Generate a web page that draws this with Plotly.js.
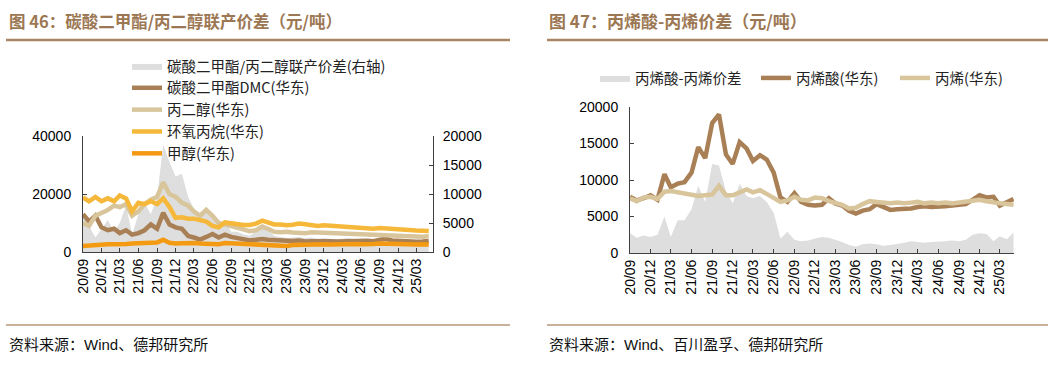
<!DOCTYPE html>
<html><head><meta charset="utf-8">
<script src="https://cdn.plot.ly/plotly-3.0.1.min.js"></script>
<style>html,body{margin:0;padding:0;background:#fff}#chart{width:1063px;height:366px}</style>
</head><body><div id="chart"></div>
<script>
// ---- shared monthly dates ----
const months = [
 '2020-09-01','2020-10-01','2020-11-01','2020-12-01',
 '2021-01-01','2021-02-01','2021-03-01','2021-04-01','2021-05-01','2021-06-01','2021-07-01','2021-08-01','2021-09-01','2021-10-01','2021-11-01','2021-12-01',
 '2022-01-01','2022-02-01','2022-03-01','2022-04-01','2022-05-01','2022-06-01','2022-07-01','2022-08-01','2022-09-01','2022-10-01','2022-11-01','2022-12-01',
 '2023-01-01','2023-02-01','2023-03-01','2023-04-01','2023-05-01','2023-06-01','2023-07-01','2023-08-01','2023-09-01','2023-10-01','2023-11-01','2023-12-01',
 '2024-01-01','2024-02-01','2024-03-01','2024-04-01','2024-05-01','2024-06-01','2024-07-01','2024-08-01','2024-09-01','2024-10-01','2024-11-01','2024-12-01',
 '2025-01-01','2025-02-01','2025-03-01','2025-04-01','2025-05-01'
];
const tickDates = ['2020-09-01','2020-12-01','2021-03-01','2021-06-01','2021-09-01','2021-12-01','2022-03-01','2022-06-01','2022-09-01','2022-12-01',
 '2023-03-01','2023-06-01','2023-09-01','2023-12-01','2024-03-01','2024-06-01','2024-09-01','2024-12-01','2025-03-01'];
const tickLabels = ['20/09','20/12','21/03','21/06','21/09','21/12','22/03','22/06','22/09','22/12',
 '23/03','23/06','23/09','23/12','24/03','24/06','24/09','24/12','25/03'];

// ---- Figure 46 (元/吨) ----
const dmcSpread = [ // 碳酸二甲酯/丙二醇联产价差 (右轴)
 6800,4500,2500,4000,
 5500,3500,5000,8000,3000,6500,8500,6500,9500,18500,15500,13000,
 13500,9500,7500,6000,7500,6500,4500,5500,3500,3500,3000,2800,
 3500,4300,3800,2800,2600,2400,2500,2600,2400,2500,2300,2400,
 2300,2200,2300,2400,2200,2300,2200,2100,2200,2300,2200,2100,
 2000,2000,1900,2000,2000];
const dmcPrice = [ // 碳酸二甲酯DMC(华东)
 13000,10500,12500,8500,
 7500,8000,6500,7500,6000,6500,7500,9500,8000,13500,9500,8500,
 8000,5500,5000,4300,5200,6200,5000,6000,5200,4800,4400,4000,
 4200,4500,4200,4000,3900,3700,3800,4000,3600,3700,3800,3900,
 3700,3600,3700,3900,4000,3800,3900,3700,4200,4600,4000,3800,
 3700,3600,3500,3600,3800];
const pgPrice = [ // 丙二醇(华东)
 10000,9000,12500,13500,
 14500,16000,15500,16500,12500,14000,16500,18000,19000,24000,20000,19000,
 17000,16000,14000,12500,14500,12500,10000,9500,9000,8500,7800,7200,
 7500,8800,8000,7000,6800,7000,6700,6600,6500,6800,6700,6500,
 6400,6300,6500,6400,6300,6100,6000,6000,5800,5900,5700,5600,
 5400,5300,5200,5300,5400];
const poPrice = [ // 环氧丙烷(华东)
 18800,17500,19000,17500,
 18500,17500,19500,18500,14000,17000,16500,17500,16500,18500,15500,11800,
 12000,11500,11500,10800,10500,9000,8500,10200,9800,9500,9300,9300,
 9800,10800,10000,9500,9500,9200,9400,9800,9600,9300,9000,9200,
 9000,9000,8800,8700,8600,8400,8200,8000,8300,8100,7900,7800,
 7700,7500,7400,7300,7200];
const meohPrice = [ // 甲醇(华东)
 2100,2300,2500,2600,
 2700,2700,2600,2800,2900,2900,3100,3200,3300,4200,3200,2900,
 3000,3200,3100,2900,2800,2800,2700,3100,3000,2900,2800,2800,
 2900,2700,2600,2500,2300,2100,2400,2500,2600,2700,2800,2700,
 2600,2700,2800,2900,2800,2700,2600,2800,2900,2800,2700,2700,
 2800,2700,2600,2700,2600];

// ---- Figure 47 (元/吨) ----
const aaSpread = [ // 丙烯酸-丙烯价差
 2700,2100,2400,2200,
 2500,5000,2200,4500,4500,6000,9200,7000,12200,12000,8500,6800,
 9500,7800,7500,7800,7000,5500,2000,2900,1800,1600,1700,2000,
 2200,2100,1800,1500,1100,900,1200,1300,1200,1000,1100,1200,
 1400,1600,1500,1400,1500,1500,1600,1700,1600,1800,2500,2700,
 2600,1600,2300,1900,2800];
const aaPrice = [ // 丙烯酸(华东)
 7700,7200,7500,7900,
 7300,10800,9000,9500,9700,11000,14500,13000,17800,19000,13500,12200,
 15200,14300,12600,13400,12800,11000,7600,7000,8200,7000,6600,6500,
 6600,7500,6800,6500,5800,5400,5800,6000,6700,6300,5900,6000,
 6000,6100,6300,6400,6300,6300,6400,6500,6600,6700,7300,7900,
 7600,7700,6500,7000,7400];
const propPrice = [ // 丙烯(华东)
 7500,7100,7600,7700,
 7400,8400,8500,8300,8100,7900,7800,7900,8000,9200,7900,7900,
 8300,8700,8300,8600,8100,7500,7000,7200,7700,7300,7200,7600,
 7500,7100,6900,6600,6100,6200,6700,7100,7000,6900,6800,6900,
 6800,6900,7000,6800,6900,6800,6900,6800,6900,7000,7100,7300,
 7100,6900,6800,6700,6600];

const W = 1063, H = 366;
const px = v => v / W;
const py = v => 1 - v / H;

const C = {gray:'#dedede', brown:'#a98056', tan:'#d8c59c', yellow:'#f5b83a', orange:'#f39a12', title:'#9c7753', rule:'#a88563'};
const lineW = 4.5;

const traces = [
 {x:months, y:dmcSpread, xaxis:'x', yaxis:'y', type:'scatter', mode:'lines', fill:'tozeroy', fillcolor:C.gray,
  line:{width:0, color:C.gray}, name:'碳酸二甲酯/丙二醇联产价差(右轴)', legend:'legend'},
 {x:months, y:dmcPrice, xaxis:'x', yaxis:'y2', type:'scatter', mode:'lines', line:{color:C.brown, width:lineW}, name:'碳酸二甲酯DMC(华东)', legend:'legend'},
 {x:months, y:pgPrice, xaxis:'x', yaxis:'y2', type:'scatter', mode:'lines', line:{color:C.tan, width:lineW}, name:'丙二醇(华东)', legend:'legend'},
 {x:months, y:poPrice, xaxis:'x', yaxis:'y2', type:'scatter', mode:'lines', line:{color:C.yellow, width:lineW}, name:'环氧丙烷(华东)', legend:'legend'},
 {x:months, y:meohPrice, xaxis:'x', yaxis:'y2', type:'scatter', mode:'lines', line:{color:C.orange, width:lineW}, name:'甲醇(华东)', legend:'legend'},

 {x:months, y:aaSpread, xaxis:'x2', yaxis:'y3', type:'scatter', mode:'lines', fill:'tozeroy', fillcolor:C.gray,
  line:{width:0, color:C.gray}, name:'丙烯酸-丙烯价差', legend:'legend2'},
 {x:months, y:aaPrice, xaxis:'x2', yaxis:'y3', type:'scatter', mode:'lines', line:{color:C.brown, width:lineW}, name:'丙烯酸(华东)', legend:'legend3'},
 {x:months, y:propPrice, xaxis:'x2', yaxis:'y3', type:'scatter', mode:'lines', line:{color:C.tan, width:lineW}, name:'丙烯(华东)', legend:'legend4'}
];

const tickFont = {family:'Liberation Sans, Arial, sans-serif', size:14, color:'#000'};
const xCommon = {type:'date', tickvals:tickDates, ticktext:tickLabels, tickangle:-90, ticks:'inside', ticklen:4,
  tickcolor:'#404040', showline:true, linecolor:'#404040', linewidth:1, showgrid:false, zeroline:false, tickfont:tickFont, fixedrange:true};
const yCommon = {showgrid:false, zeroline:false, showline:true, linecolor:'#404040', linewidth:1, ticks:'inside', ticklen:4,
  tickcolor:'#404040', tickfont:tickFont, fixedrange:true};

const legFont = {family:'Noto Sans CJK SC, sans-serif', size:14.5, color:'#222'};
const legBase = {bgcolor:'rgba(0,0,0,0)', borderwidth:0, font:legFont, xanchor:'left', yanchor:'middle'};

const layout = {
 width:W, height:H, margin:{l:0,r:0,t:0,b:0}, paper_bgcolor:'#fff', plot_bgcolor:'rgba(0,0,0,0)',
 showlegend:true,
 xaxis:Object.assign({}, xCommon, {domain:[px(83), px(433)], anchor:'y', range:['2020-09-01','2025-05-22']}),
 yaxis:Object.assign({}, yCommon, {domain:[py(252), py(136)], anchor:'x', side:'right', range:[0,20000],
   tickvals:[0,5000,10000,15000,20000], ticktext:['0','5000','10000','15000','20000'], ticklabelstandoff:6}),
 yaxis2:Object.assign({}, yCommon, {overlaying:'y', anchor:'x', side:'left', range:[0,40000],
   tickvals:[0,20000,40000], ticktext:['0','20000','40000'], ticklabelstandoff:8}),
 xaxis2:Object.assign({}, xCommon, {domain:[px(630), px(1014)], anchor:'y3', range:['2020-09-01','2025-05-03']}),
 yaxis3:Object.assign({}, yCommon, {domain:[py(253), py(107)], anchor:'x2', side:'left', range:[0,20000],
   tickvals:[0,5000,10000,15000,20000], ticktext:['0','5000','10000','15000','20000'], ticklabelstandoff:8}),
 legend:Object.assign({}, legBase, {x:px(127), y:py(110), orientation:'v', traceorder:'normal', tracegroupgap:0}),
 legend2:Object.assign({}, legBase, {x:px(595), y:py(78), orientation:'h'}),
 legend3:Object.assign({}, legBase, {x:px(756), y:py(78), orientation:'h'}),
 legend4:Object.assign({}, legBase, {x:px(895), y:py(78), orientation:'h'}),
 annotations:[
  {xref:'paper', yref:'paper', x:px(7), y:py(21), xanchor:'left', yanchor:'middle', showarrow:false,
   text:'<b>图 46：碳酸二甲酯/丙二醇联产价差（元/吨）</b>', font:{family:'Noto Sans CJK SC, sans-serif', size:16.5, color:C.title}},
  {xref:'paper', yref:'paper', x:px(547), y:py(21), xanchor:'left', yanchor:'middle', showarrow:false,
   text:'<b>图 47：丙烯酸-丙烯价差（元/吨）</b>', font:{family:'Noto Sans CJK SC, sans-serif', size:17, color:C.title}},
  {xref:'paper', yref:'paper', x:px(7), y:py(344), xanchor:'left', yanchor:'middle', showarrow:false,
   text:'资料来源：Wind、德邦研究所', font:{family:'Liberation Sans, Noto Sans CJK SC, sans-serif', size:15, color:'#111'}},
  {xref:'paper', yref:'paper', x:px(547), y:py(344), xanchor:'left', yanchor:'middle', showarrow:false,
   text:'资料来源：Wind、百川盈孚、德邦研究所', font:{family:'Liberation Sans, Noto Sans CJK SC, sans-serif', size:15, color:'#111'}}
 ],
 shapes:[
  {type:'line', xref:'paper', yref:'paper', x0:px(6), x1:px(510), y0:py(40), y1:py(40), line:{color:C.rule, width:2.5}},
  {type:'line', xref:'paper', yref:'paper', x0:px(547), x1:px(1048), y0:py(40), y1:py(40), line:{color:C.rule, width:2.5}},
  {type:'line', xref:'paper', yref:'paper', x0:px(6), x1:px(510), y0:py(325), y1:py(325), line:{color:'#b8977a', width:1.5}},
  {type:'line', xref:'paper', yref:'paper', x0:px(547), x1:px(1048), y0:py(325), y1:py(325), line:{color:'#b8977a', width:1.5}}
 ]
};

Plotly.newPlot('chart', traces, layout, {displayModeBar:false, staticPlot:true});
</script>
</body></html>
